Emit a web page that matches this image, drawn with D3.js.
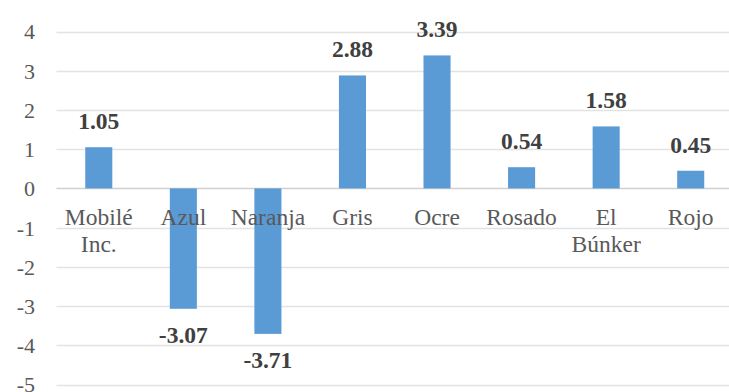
<!DOCTYPE html>
<html>
<head>
<meta charset="utf-8">
<script src="https://cdn.jsdelivr.net/npm/d3@7/dist/d3.min.js"></script>
<style>
  html, body { margin: 0; padding: 0; background: #ffffff; }
  svg { display: block; }
</style>
</head>
<body>
<svg id="chart" width="729" height="392"></svg>
<script>
// Category names (line breaks where the axis label wraps)
const categories = ["Mobilé\nInc.", "Azul", "Naranja", "Gris", "Ocre", "Rosado", "El\nBúnker", "Rojo"];
// Value per category
const values = [1.05, -3.07, -3.71, 2.88, 3.39, 0.54, 1.58, 0.45];
// Y-axis ticks
const yTicks = [4, 3, 2, 1, 0, -1, -2, -3, -4, -5];

const svg = d3.select("#chart");
const W = 729, H = 392;
const left = 56.5, right = 733;
const FONT = '"Liberation Serif", "Times New Roman", serif';

// Plain hyphen-minus for negative numbers
const locale = d3.formatLocale({ decimal: ".", thousands: ",", grouping: [3], currency: ["", ""], minus: "-" });
const fmtTick = locale.format("d");
const fmtVal = locale.format(".2f");

const x = d3.scaleBand()
  .domain(categories)
  .range([left, right])
  .padding(0);

const y = d3.scaleLinear()
  .domain([-5, 4])
  .range([384.5, 31.5]);

// Horizontal gridlines
svg.append("g")
  .selectAll("line")
  .data(yTicks)
  .join("line")
  .attr("x1", left)
  .attr("x2", W)
  .attr("y1", d => Math.round(y(d)) + 0.5)
  .attr("y2", d => Math.round(y(d)) + 0.5)
  .attr("stroke", d => d === 0 ? "#d0d0d0" : "#e3e3e3")
  .attr("stroke-width", d => d === 0 ? 1.5 : 1.3);

// Y-axis labels
const yAxis = d3.axisLeft(y)
  .tickValues(yTicks)
  .tickSize(0)
  .tickPadding(0)
  .tickFormat(fmtTick);

svg.append("g")
  .attr("transform", "translate(35,0)")
  .call(yAxis)
  .call(g => g.select(".domain").remove())
  .call(g => g.selectAll("text")
    .style("font-family", FONT)
    .style("font-size", "22px")
    .attr("fill", "#595959")
    .attr("dy", "0.34em"));

// Bars
const barW = x.bandwidth() * 0.32;
const cx = d => x(d) + x.bandwidth() / 2;
const rows = categories.map((c, i) => ({ c, v: values[i] }));

svg.append("g")
  .selectAll("rect")
  .data(rows)
  .join("rect")
  .attr("x", d => cx(d.c) - barW / 2)
  .attr("width", barW)
  .attr("y", d => y(Math.max(0, d.v)))
  .attr("height", d => Math.abs(y(d.v) - y(0)))
  .attr("fill", "#5B9BD5");

// Value labels
svg.append("g")
  .selectAll("text")
  .data(rows)
  .join("text")
  .attr("x", d => cx(d.c))
  .attr("y", d => d.v >= 0 ? y(d.v) - 18 : y(d.v) + 34)
  .attr("text-anchor", "middle")
  .style("font-family", FONT)
  .style("font-weight", "bold")
  .style("font-size", "23.5px")
  .attr("fill", "#404040")
  .text(d => fmtVal(d.v));

// Category labels, drawn just below the zero line
const catG = svg.append("g");
categories.forEach(c => {
  const t = catG.append("text")
    .attr("x", cx(c))
    .attr("y", y(0) + 37)
    .attr("text-anchor", "middle")
    .style("font-family", FONT)
    .style("font-size", "23.5px")
    .attr("fill", "#595959");
  c.split("\n").forEach((line, i) => {
    t.append("tspan")
      .attr("x", cx(c))
      .attr("dy", i === 0 ? 0 : 26.5)
      .text(line);
  });
});
</script>
</body>
</html>
